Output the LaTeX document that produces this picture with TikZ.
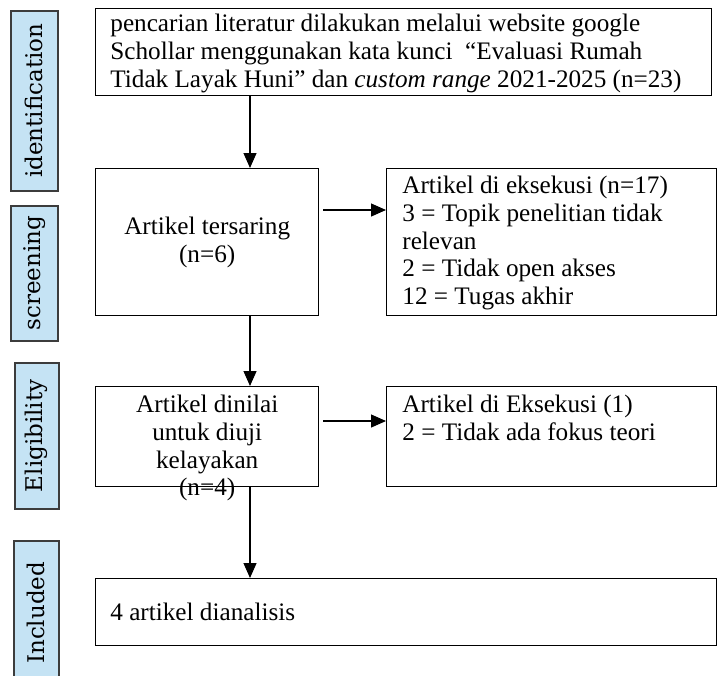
\documentclass[tikz,border=0pt]{standalone}
\usepackage{fontspec}
\setmainfont{Liberation Serif}
\newfontfamily\sidefont{DejaVu Serif}
\usetikzlibrary{arrows.meta}
\definecolor{sideblue}{RGB}{197,227,244}
\definecolor{sideedge}{RGB}{60,60,60}
\tikzset{
  sidebox/.style={draw=sideedge, fill=sideblue, line width=0.8pt, anchor=north west, inner sep=0pt},
  sidetext/.style={rotate=90, inner sep=0pt, font=\sidefont\fontsize{11.5}{13}\selectfont},
  flowbox/.style={draw, line width=0.7pt, anchor=north west, inner sep=0pt},
  flowtext/.style={inner sep=0pt, font=\fontsize{12.6}{13.8}\selectfont},
  flow/.style={-{Triangle[width=6.5pt,length=7.5pt]}, line width=0.6pt}
}
\begin{document}
\begin{tikzpicture}[x=0.5pt,y=-0.5pt]
  \useasboundingbox (0,0) rectangle (726,675);
  % stage labels
  \node[sidebox, minimum width=23.5pt, minimum height=90pt] (identif) at (10,10) {};
  \node[sidebox, minimum width=23.5pt, minimum height=67.5pt] (screenlab) at (10,205) {};
  \node[sidebox, minimum width=22pt, minimum height=73pt] (eliglab) at (14,362) {};
  \node[sidebox, minimum width=22.5pt, minimum height=72pt] (incllab) at (13,540) {};
  \node[sidetext] at (identif) {identification};
  \node[sidetext] at (screenlab) {screening};
  \node[sidetext] at (eliglab) {Eligibility};
  \node[sidetext] at (incllab) {Included};
  % boxes
  \node[flowbox, minimum width=308pt, minimum height=43.5pt] (search) at (95,8) {};
  \node[flowbox, minimum width=111.5pt, minimum height=73.5pt] (screen) at (95,168) {};
  \node[flowbox, minimum width=165pt, minimum height=73.5pt] (excl1) at (386,168) {};
  \node[flowbox, minimum width=111.5pt, minimum height=50pt] (assess) at (95,386) {};
  \node[flowbox, minimum width=165pt, minimum height=50pt] (excl2) at (386,386) {};
  \node[flowbox, minimum width=310.5pt, minimum height=33.5pt] (incl) at (95,578) {};
  % box texts
  \node[flowtext, anchor=north west, align=left] (searchtxt) at ([xshift=7.5pt,yshift=-3pt]search.north west)
    {pencarian literatur dilakukan melalui website google\\
     Schollar menggunakan kata kunci \ “Evaluasi Rumah\\
     Tidak Layak Huni” dan \textit{custom range} 2021-2025 (n=23)};
  \node[flowtext, align=center] (screentxt) at (screen) {Artikel tersaring\\(n=6)};
  \node[flowtext, anchor=north west, align=left] (excl1txt) at ([xshift=8pt,yshift=-4pt]excl1.north west)
    {Artikel di eksekusi (n=17)\\
     3 = Topik penelitian tidak\\
     relevan\\
     2 = Tidak open akses\\
     12 = Tugas akhir};
  \node[flowtext, anchor=north, align=center] (assesstxt) at ([yshift=-4.5pt]assess.north)
    {Artikel dinilai\\untuk diuji\\kelayakan\\(n=4)};
  \node[flowtext, anchor=north west, align=left] (excl2txt) at ([xshift=8pt,yshift=-4.5pt]excl2.north west)
    {Artikel di Eksekusi (1)\\2 = Tidak ada fokus teori};
  \node[flowtext, anchor=west] (incltxt) at ([xshift=7.5pt]incl.west) {4 artikel dianalisis};
  % arrows
  \coordinate (spine) at (250,0);
  \coordinate (excl1row) at (0,210);
  \coordinate (excl2row) at (0,421);
  \draw[flow] (search.south -| spine) -- (screen.north -| spine);
  \draw[flow] (screen.south -| spine) -- (assess.north -| spine);
  \draw[flow] (assess.south -| spine) -- (incl.north -| spine);
  \draw[flow, shorten <=2pt] (screen.east |- excl1row) -- (excl1.west |- excl1row);
  \draw[flow, shorten <=2pt] (assess.east |- excl2row) -- (excl2.west |- excl2row);
\end{tikzpicture}
\end{document}
